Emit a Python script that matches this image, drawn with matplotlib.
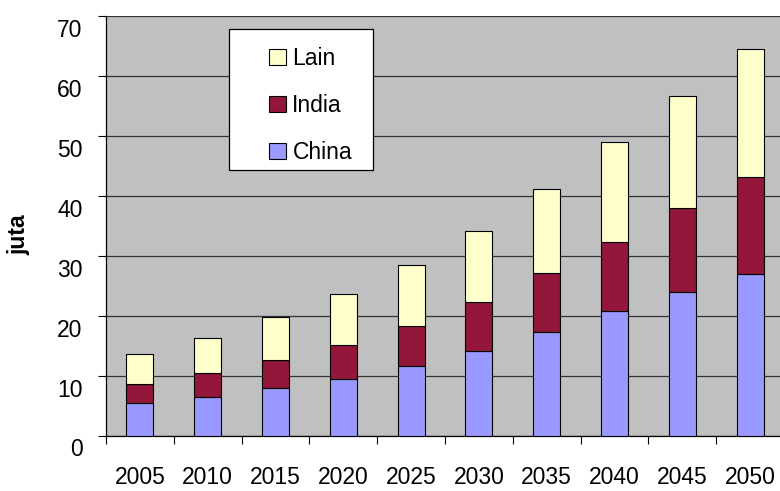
import matplotlib
matplotlib.use("Agg")
import matplotlib.pyplot as plt
import matplotlib.transforms as mtransforms
from matplotlib.patches import Rectangle
import numpy as np

plt.rcParams['font.family'] = ['Liberation Sans', 'DejaVu Sans']

years = ['2005', '2010', '2015', '2020', '2025', '2030', '2035', '2040', '2045', '2050']
china = [5.5, 6.5, 7.9, 9.5, 11.55, 14.15, 17.3, 20.7, 23.9, 27.0]
india = [3.1, 3.9, 4.65, 5.55, 6.65, 8.05, 9.8, 11.6, 14.0, 16.2]
lain = [5.0, 5.9, 7.15, 8.55, 10.2, 12.0, 14.1, 16.6, 18.8, 21.3]

c_china = '#9999FF'
c_india = '#92173A'
c_lain = '#FFFFCC'

fs = 16.5

fig = plt.figure(figsize=(7.8, 4.91), dpi=100)
ax = fig.add_axes([106 / 780, 55.5 / 491, 678 / 780, 419.5 / 491])
ax.set_facecolor('#C0C0C0')

x = np.arange(len(years))
w = 0.4
b1 = ax.bar(x, china, w, color=c_china, edgecolor='black', linewidth=0.8, label='China', zorder=3)
b2 = ax.bar(x, india, w, bottom=china, color=c_india, edgecolor='black', linewidth=0.8, label='India', zorder=3)
bottom2 = np.array(china) + np.array(india)
b3 = ax.bar(x, lain, w, bottom=bottom2, color=c_lain, edgecolor='black', linewidth=0.8, label='Lain', zorder=3)

ax.set_xlim(-0.5, len(years) - 0.5)
ax.set_ylim(0, 70)
ax.set_yticks(range(0, 71, 10))
ax.yaxis.grid(True, color='#333333', linewidth=0.9, zorder=1)
ax.set_axisbelow(True)

# x: ticks at category boundaries, labels at centers
ax.set_xticks(np.arange(-0.5, len(years), 1.0))
ax.set_xticklabels([])
ax.set_xticks(x, minor=True)
ax.set_xticklabels(years, minor=True, fontsize=fs)
ax.tick_params(axis='x', which='major', direction='out', length=6, width=0.8)
ax.tick_params(axis='x', which='minor', length=0, pad=22)
ax.tick_params(axis='y', direction='out', length=6, width=0.8, labelsize=fs, pad=11)

offset = mtransforms.ScaledTranslation(0, -0.12, fig.dpi_scale_trans)
for lbl in ax.get_yticklabels():
    lbl.set_transform(lbl.get_transform() + offset)

for s in ['top', 'right']:
    ax.spines[s].set_visible(False)
ax.spines['left'].set_linewidth(0.9)
ax.spines['bottom'].set_linewidth(0.9)

fig.text(19 / 780, 1 - 235 / 491, 'juta', rotation=90, fontsize=fs, fontweight='bold',
         ha='center', va='center')

# legend box
fig.patches.append(Rectangle((228.7 / 780, 1 - 170.3 / 491), (373.3 - 228.7) / 780, (170.3 - 29.3) / 491,
                             transform=fig.transFigure, facecolor='white', edgecolor='black',
                             linewidth=0.9, zorder=5))
leg = fig.legend([b3, b2, b1], ['Lain', 'India', 'China'], loc='center left',
                 bbox_to_anchor=(258 / 780, 1 - 105.5 / 491), frameon=False, fontsize=fs,
                 borderpad=0, handlelength=0.74, handleheight=0.7, handletextpad=0.26,
                 labelspacing=1.03)
leg.set_zorder(6)

fig.savefig('out.png', dpi=100)
